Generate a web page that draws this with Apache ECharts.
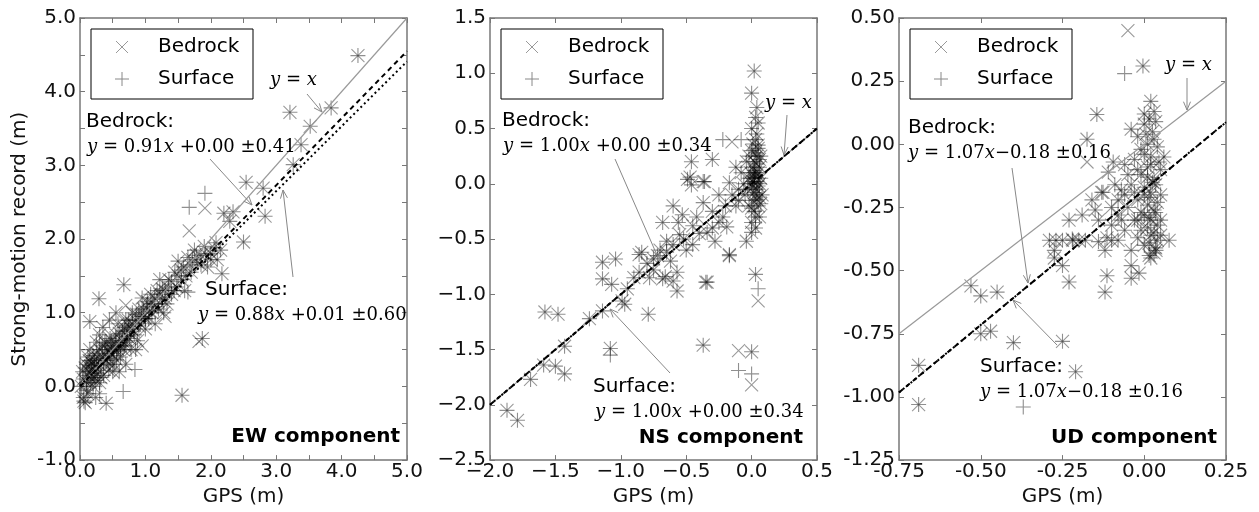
<!DOCTYPE html>
<html><head><meta charset="utf-8">
<script src="https://cdn.jsdelivr.net/npm/echarts@6/dist/echarts.min.js"></script>
<style>html,body{margin:0;padding:0;background:#fff}#c{width:1259px;height:512px}</style>
</head><body><div id="c"></div>
<script>
// ---------------- data (GPS [m], strong-motion record [m]) ----------------
const ewBoth = [[4.25,4.49],[3.84,3.78],[3.52,3.53],[3.21,3.72],[3.38,3.28],[3.26,3.01],[2.54,2.77],[2.8,2.69],[2.83,2.31],[2.2,2.35],[2.34,2.37],[2.29,2.24],[2.5,1.96],[2.17,1.53],[1.87,0.65],[1.56,-0.12],[0.67,1.38],[0.29,1.19],[0.15,0.88],[0.4,-0.23],
[0.05,0.1],[0.08,0.25],[0.1,-0.05],[0.12,0.15],[0.14,0.35],[0.16,0.05],[0.18,0.22],[0.2,0.42],[0.22,0.12],[0.24,-0.15],[0.25,0.3],[0.27,0.18],[0.3,0.5],[0.3,0.05],[0.32,0.28],[0.35,0.4],[0.36,0.15],[0.38,0.6],[0.4,0.35],[0.42,0.5],[0.44,0.22],[0.46,0.65],[0.48,0.45],[0.5,0.55],[0.52,0.3],[0.55,0.7],[0.56,0.48],[0.58,0.85],[0.6,0.6],[0.62,0.4],[0.65,0.75],[0.68,0.55],[0.7,0.9],[0.72,0.68],[0.75,0.82],[0.78,0.5],[0.8,1.0],[0.82,0.75],[0.85,0.9],[0.88,0.62],[0.9,1.05],[0.92,0.85],[0.95,1.2],[0.98,0.95],[1.0,0.78],[1.02,1.08],[1.05,0.92],[1.08,1.25],[1.1,1.0],[1.12,1.12],[1.15,0.85],[1.18,1.3],[1.2,1.05],[1.22,1.45],[1.25,1.18],[1.28,1.0],[1.3,1.3],[1.33,1.12],[1.36,1.45],[1.4,1.25],[1.45,1.55],[1.48,1.35],[1.5,1.7],[1.55,1.45],[1.58,1.62],[1.6,1.3],[1.65,1.75],[1.7,1.55],[1.75,1.85],[1.8,1.68],[1.85,1.78],[1.9,1.9],[1.95,1.62],[2.0,1.8],[2.05,1.88],[2.1,1.72],[2.15,1.85],
[0.02,0.0],[0.04,0.2],[0.06,-0.2],[0.1,0.3],[0.15,0.5],[0.2,0.0],[0.25,0.6],[0.12,-0.1],[0.3,0.7],[0.45,0.9],[0.5,0.2],[0.6,0.2],[0.7,0.3],[0.85,0.5],[0.55,1.0],[0.35,0.8],[0.08,-0.22],[0.05,-0.15],[0.18,0.32],[0.22,0.28],[0.28,0.38],
[0.1,0.05],[0.12,0.4],[0.14,0.2],[0.16,0.28],[0.18,0.1],[0.2,0.18],[0.22,0.36],[0.24,0.08],[0.26,0.45],[0.28,0.25],[0.32,0.12],[0.34,0.55],[0.36,0.32],[0.38,0.44],[0.4,0.58],[0.42,0.38],[0.44,0.48],[0.46,0.3],[0.48,0.62],[0.5,0.42],[0.52,0.52],[0.54,0.6],[0.56,0.36],[0.58,0.5],[0.6,0.72],[0.62,0.55],[0.64,0.62],[0.66,0.5],[0.68,0.8],[0.7,0.6],[0.72,0.75],[0.74,0.9],[0.76,0.65],[0.78,0.78],[0.8,0.85],[0.83,0.7],[0.86,0.98],[0.9,0.82],[0.94,0.95],[0.97,1.05],[1.0,0.92],[1.03,1.15],[1.06,1.02],[1.1,1.12],[1.14,1.2],[1.18,1.08],[1.22,1.25],[1.26,1.32],[1.3,1.2],[1.35,1.35],[1.4,1.42],[1.44,1.3],[1.5,1.5],[1.55,1.58],[1.62,1.5],[1.68,1.65],[1.72,1.72],[1.78,1.78],[1.85,1.65],[1.92,1.8],[2.0,1.72],[2.08,1.95]];
const ewBedrockOnly = [[1.91,2.42],[1.67,2.11],[1.82,0.61],[0.95,0.55],[1.3,0.95],[0.7,1.1]];
const ewSurfaceOnly = [[1.67,2.43],[1.91,2.62],[0.84,0.23],[0.66,-0.07],[1.65,1.28],[0.3,-0.1]];

const nsBoth = [[0.02,1.02],[0.0,0.82],[0.04,0.69],[0.03,0.6],[-0.46,0.2],[-0.3,0.22],[-0.49,0.04],[-0.36,0.02],[-0.47,0.06],[-0.46,-0.01],[-0.37,0.02],[-0.17,0.01],[-0.37,-0.17],[-0.53,-0.28],[-0.56,-0.35],[-0.68,-0.35],[-0.65,-0.52],[-0.55,-0.46],[-0.34,-0.44],[-0.28,-0.52],[-0.19,-0.39],[-0.04,-0.52],[0.0,-0.44],[-0.17,-0.65],[-0.84,-0.62],[-1.04,-0.68],[-0.72,-0.65],[-0.34,-0.89],[-0.57,-0.8],[-0.68,-0.86],[-1.14,-0.71],[-0.86,-0.64],[-0.86,-0.8],[-0.66,-0.84],[-0.6,-0.88],[-0.57,-0.97],[-0.35,-0.89],[-0.17,-0.64],[0.03,-0.82],[-1.58,-1.16],[-1.48,-1.18],[-1.24,-1.22],[-1.14,-1.15],[-0.97,-1.09],[-0.99,-1.06],[-0.79,-1.18],[-1.08,-1.49],[-1.43,-1.47],[-0.37,-1.46],[0.0,-1.52],[-1.59,-1.64],[-1.5,-1.65],[-1.43,-1.72],[-1.69,-1.77],[-1.87,-2.05],[-1.79,-2.14],[-1.14,-0.86],[-1.07,-0.91],[-0.95,-0.95],[-0.9,-0.85],[-0.8,-0.72],[-0.75,-0.78],[-0.62,-0.7],[-0.5,-0.6],[-0.45,-0.38],[-0.42,-0.3],[-0.3,-0.25],[-0.25,-0.1],[-0.22,-0.3],[-0.12,-0.2],[-0.1,-0.05],[-0.08,0.1],[-0.12,0.15],[-0.6,-0.2],
[0.0,0.0],[0.02,0.05],[0.04,-0.05],[0.05,0.1],[0.01,0.15],[0.03,-0.1],[0.06,0.0],[0.02,0.2],[0.04,0.25],[0.0,0.3],[0.05,0.35],[0.03,0.4],[0.07,0.05],[0.01,-0.15],[0.05,-0.2],[0.02,-0.25],[0.06,-0.3],[0.0,-0.35],[0.04,0.45],[0.06,0.15],[-0.02,0.05],[-0.03,-0.05],[0.08,-0.1],[0.03,0.1],[0.0,0.5],[0.05,0.55],[-0.04,0.2],[0.07,0.25],[-0.02,-0.2],[0.03,-0.4],[0.02,0.08],[0.04,0.02],[0.01,-0.03],[0.06,-0.12],
[0.01,0.02],[0.03,0.06],[0.05,-0.02],[0.02,0.12],[0.04,0.18],[-0.01,0.1],[0.06,0.22],[0.02,-0.08],[0.04,-0.14],[0.0,-0.22],[0.03,0.28],[0.05,0.32],[0.01,0.36],[-0.02,0.25],[0.07,-0.18],[0.03,-0.3],[-0.05,-0.1],[-0.06,0.0],[-0.1,-0.15],[-0.15,-0.1],[-0.2,-0.2],[-0.25,-0.35],[-0.3,-0.4],[-0.4,-0.45],[-0.45,-0.55],[-0.52,-0.5],[-0.6,-0.55],[-0.7,-0.6],[-0.75,-0.68],[-0.78,-0.85],[-0.65,-0.62]];
const nsBedrockOnly = [[0.05,-1.06],[-0.1,-1.51],[0.0,-1.82],[-0.15,0.38]];
const nsSurfaceOnly = [[0.05,-0.95],[-0.1,-1.69],[0.0,-1.72],[-0.22,0.4],[-0.08,0.4],[-1.08,-1.55]];

const udBoth = [[-0.004,0.31],[-0.145,0.118],[-0.175,0.02],[-0.095,-0.07],[-0.11,-0.11],[-0.13,-0.19],[-0.15,-0.26],[-0.14,-0.3],[-0.114,-0.37],[-0.1,-0.38],[-0.27,-0.38],[-0.22,-0.375],[-0.18,-0.38],[-0.14,-0.385],[-0.275,-0.42],[-0.275,-0.45],[-0.25,-0.48],[-0.23,-0.545],[-0.114,-0.52],[-0.12,-0.585],[-0.04,-0.48],[-0.04,-0.53],[-0.016,-0.51],[0.015,-0.44],[0.036,-0.42],[0.076,-0.38],[-0.53,-0.56],[-0.5,-0.6],[-0.45,-0.585],[-0.5,-0.75],[-0.47,-0.74],[-0.4,-0.785],[-0.25,-0.78],[-0.21,-0.9],[-0.69,-0.875],[-0.69,-1.03],[-0.29,-0.38],[-0.25,-0.38],[-0.218,-0.38],[-0.2,-0.38],[-0.126,-0.19],
[0.02,0.17],[0.03,0.13],[0.0,0.08],[0.025,0.05],[-0.02,0.03],[0.01,0.0],[0.04,-0.01],[0.0,-0.04],[-0.03,-0.06],[0.02,-0.08],[0.05,-0.1],[-0.01,-0.12],[0.03,-0.14],[-0.04,-0.16],[0.0,-0.17],[0.02,-0.19],[0.05,-0.2],[-0.02,-0.22],[0.01,-0.24],[0.03,-0.26],[-0.05,-0.25],[0.0,-0.28],[0.02,-0.3],[0.04,-0.32],[-0.01,-0.34],[0.02,-0.36],[0.04,-0.38],[0.0,-0.4],[0.03,-0.43],[-0.07,-0.18],[-0.06,-0.08],[-0.08,-0.22],[0.06,-0.05],[0.0,0.12],[-0.02,-0.3],[0.05,-0.3],[0.01,-0.09],[-0.04,0.06],[-0.08,-0.28],[-0.06,-0.34],
[0.015,0.1],[0.035,0.09],[0.005,0.04],[0.03,0.02],[-0.01,-0.02],[0.02,-0.05],[0.045,-0.07],[-0.02,-0.1],[0.01,-0.13],[0.035,-0.16],[-0.03,-0.19],[0.015,-0.21],[0.04,-0.23],[-0.01,-0.27],[0.015,-0.29],[0.035,-0.27],[-0.03,-0.3],[0.01,-0.33],[0.03,-0.35],[-0.02,-0.37],[0.015,-0.39],[0.035,-0.41],[0.02,-0.45],[-0.06,-0.2],[-0.09,-0.16],[-0.1,-0.25],[-0.07,-0.3],[-0.05,-0.12],[0.0,-0.2],[0.025,-0.15],[-0.04,-0.42],[0.05,-0.36],[-0.1,-0.32],[-0.16,-0.22],[-0.19,-0.28],[-0.23,-0.3],[-0.08,-0.38],[-0.12,-0.42]];
const udBedrockOnly = [[-0.05,0.45],[-0.175,-0.07]];
const udSurfaceOnly = [[-0.06,0.28],[-0.37,-1.04]];

// axis ranges / ticks
const xRanges = [[0,5],[-2,0.5],[-0.75,0.25]];
const yRanges = [[-1,5],[-2.5,1.5],[-1.25,0.5]];
const tickSteps = [0.5,0.5,0.25];
const labelSteps = [1,0.5,0.25];
const labelDecimals = [1,1,2];
const minusSigns = ['-','\u2212','-'];
// fits [slope, intercept, sigma]
const bedrockFits = [[0.91,0.00,0.41],[1.00,0.00,0.34],[1.07,-0.18,0.16]];
const surfaceFits = [[0.88,0.01,0.60],[1.00,0.00,0.34],[1.07,-0.18,0.16]];
const panelTitles = ['EW component','NS component','UD component'];
const legendNames = ['Bedrock','Surface'];
const xAxisName = 'GPS (m)';
const yAxisName = 'Strong-motion record (m)';

// ---------------- layout ----------------
const gridLefts = [80,490,899];
const gridTop = 18, gridW = 327, gridH = 444;
const FONT = 'DejaVu Sans';
const SERIF = 'DejaVu Serif';
const X_PATH = 'path://M0,0L10,10M10,0L0,10';
const PLUS_PATH = 'path://M5,0L5,10M0,5L10,5';
const bedrockPts = [ewBoth.concat(ewBedrockOnly), nsBoth.concat(nsBedrockOnly), udBoth.concat(udBedrockOnly)];
const surfacePts = [ewBoth.concat(ewSurfaceOnly), nsBoth.concat(nsSurfaceOnly), udBoth.concat(udSurfaceOnly)];

function fmt(i){
  return function(v){
    const r = v/labelSteps[i];
    if (Math.abs(r-Math.round(r))>1e-6) return '';
    let s = Math.abs(v).toFixed(labelDecimals[i]);
    if (v < -1e-9) s = minusSigns[i] + s;
    return s;
  };
}
const grids=[], xAxes=[], yAxes=[], series=[], graphics=[];
for (let i=0;i<3;i++){
  grids.push({left:gridLefts[i], top:gridTop, width:gridW, height:gridH, containLabel:false});
  const common = {splitLine:{show:false},interval:tickSteps[i],
    axisLine:{show:true,onZero:false,lineStyle:{color:'#777',width:1.5}},
    axisTick:{show:true,inside:true,length:5,lineStyle:{color:'#777',width:1}}};
  xAxes.push(Object.assign({}, common, {type:'value',gridIndex:i,position:'bottom',min:xRanges[i][0],max:xRanges[i][1],
    axisLabel:{show:true,formatter:fmt(i),color:'#111',fontFamily:FONT,fontSize:20,margin:2},
    name:xAxisName,nameLocation:'middle',nameGap:21,nameTextStyle:{color:'#111',fontFamily:FONT,fontSize:20}}));
  xAxes.push(Object.assign({}, common, {type:'value',gridIndex:i,position:'top',min:xRanges[i][0],max:xRanges[i][1],axisLabel:{show:false}}));
  yAxes.push(Object.assign({}, common, {type:'value',gridIndex:i,position:'left',min:yRanges[i][0],max:yRanges[i][1],
    axisLabel:{show:true,formatter:fmt(i),color:'#111',fontFamily:FONT,fontSize:20,margin:4},
    name:i===0?yAxisName:'',nameLocation:'middle',nameGap:50,nameTextStyle:{color:'#111',fontFamily:FONT,fontSize:20}}));
  yAxes.push(Object.assign({}, common, {type:'value',gridIndex:i,position:'right',min:yRanges[i][0],max:yRanges[i][1],axisLabel:{show:false}}));
  const xa = 2*i, ya = 2*i;
  series.push({type:'scatter',name:legendNames[0],xAxisIndex:xa,yAxisIndex:ya,data:bedrockPts[i],symbol:X_PATH,symbolSize:13,
    itemStyle:{color:'rgba(0,0,0,0.5)',borderColor:'rgba(0,0,0,0.5)',borderWidth:1.1},z:2,silent:true});
  series.push({type:'scatter',name:legendNames[1],xAxisIndex:xa,yAxisIndex:ya,data:surfacePts[i],symbol:PLUS_PATH,symbolSize:15,
    itemStyle:{color:'rgba(0,0,0,0.55)',borderColor:'rgba(0,0,0,0.55)',borderWidth:1.1},z:2,silent:true});
  const x0 = xRanges[i][0], x1 = xRanges[i][1];
  series.push({type:'line',xAxisIndex:xa,yAxisIndex:ya,data:[[x0,x0],[x1,x1]],symbol:'none',lineStyle:{color:'#999',width:1.2},z:3,silent:true});
  const bf = bedrockFits[i], sf = surfaceFits[i];
  series.push({type:'line',xAxisIndex:xa,yAxisIndex:ya,data:[[x0,bf[0]*x0+bf[1]],[x1,bf[0]*x1+bf[1]]],symbol:'none',lineStyle:{color:'#000',width:2,type:[5,4]},z:4,silent:true});
  series.push({type:'line',xAxisIndex:xa,yAxisIndex:ya,data:[[x0,sf[0]*x0+sf[1]],[x1,sf[0]*x1+sf[1]]],symbol:'none',lineStyle:{color:'#000',width:2,type:[2,3]},z:4,silent:true});
}

// ---------------- annotations (pixel positions) ----------------
function eqText(f){
  const sign = f[1] < 0 ? '\u2212' : ' +';
  return '{i|y} = '+f[0].toFixed(2)+'{i|x}'+sign+Math.abs(f[1]).toFixed(2)+' \u00b1'+f[2].toFixed(2);
}
function txt(x,y,text,opt){
  opt = opt||{};
  return {type:'text',x:x,y:y,z:50,style:Object.assign({text:text,fill:'#000',fontFamily:FONT,fontSize:20,verticalAlign:'middle',align:opt.align||'left'},opt.style||{})};
}
function eq(x,y,text){
  return {type:'text',x:x,y:y,z:50,style:{text:text,fill:'#000',fontFamily:SERIF,fontSize:18,verticalAlign:'middle',align:'left',
    rich:{i:{fontStyle:'italic',fontFamily:SERIF,fontSize:18,fill:'#000'}}}};
}
function arrow(x1,y1,x2,y2){
  const a = Math.atan2(y2-y1,x2-x1), L=9, w=0.4;
  return [{type:'line',z:45,shape:{x1:x1,y1:y1,x2:x2,y2:y2},style:{stroke:'#888',lineWidth:1}},
    {type:'polyline',z:45,shape:{points:[[x2-L*Math.cos(a-w),y2-L*Math.sin(a-w)],[x2,y2],[x2-L*Math.cos(a+w),y2-L*Math.sin(a+w)]]},style:{stroke:'#888',lineWidth:1,fill:null}}];
}
const ann = [
  {yx:[270,80], yxArrow:[307,94,322,112], bed:[86,122], bedEq:[87,147], bedArrow:[210,159,252,205], sur:[205,290], surEq:[198,315], surArrow:[293,277,283,190], title:[400,437]},
  {yx:[765,103], yxArrow:[787,115,784,155], bed:[502,121], bedEq:[503,146], bedArrow:[615,159,660,262], sur:[593,387], surEq:[595,412], surArrow:[670,373,610,309], title:[803,438]},
  {yx:[1165,65], yxArrow:[1187,78,1187,110], bed:[908,128], bedEq:[908,153], bedArrow:[1012,168,1028,283], sur:[980,367], surEq:[980,392], surArrow:[1057,345,1013,300], title:[1217,438]}
];
for (let i=0;i<3;i++){
  const a = ann[i];
  graphics.push(eq(a.yx[0],a.yx[1],'{i|y} = {i|x}'));
  graphics.push(...arrow(...a.yxArrow));
  graphics.push(txt(a.bed[0],a.bed[1],legendNames[0]+':'));
  graphics.push(eq(a.bedEq[0],a.bedEq[1],eqText(bedrockFits[i])));
  graphics.push(...arrow(...a.bedArrow));
  graphics.push(txt(a.sur[0],a.sur[1],legendNames[1]+':'));
  graphics.push(eq(a.surEq[0],a.surEq[1],eqText(surfaceFits[i])));
  graphics.push(...arrow(...a.surArrow));
  graphics.push(txt(a.title[0],a.title[1],panelTitles[i],{align:'right',style:{fontWeight:'bold'}}));
  // legend box
  const lx = gridLefts[i]+11, ly = 29;
  graphics.push({type:'rect',z:40,shape:{x:lx,y:ly,width:162,height:70},style:{fill:'#fff',stroke:'#000',lineWidth:1}});
  const mx = lx+31, r1 = ly+18, r2 = ly+50, s=6;
  graphics.push({type:'polyline',z:41,shape:{points:[[mx-s,r1-s],[mx+s,r1+s]]},style:{stroke:'#999',lineWidth:1}});
  graphics.push({type:'polyline',z:41,shape:{points:[[mx+s,r1-s],[mx-s,r1+s]]},style:{stroke:'#999',lineWidth:1}});
  graphics.push({type:'polyline',z:41,shape:{points:[[mx-7,r2],[mx+7,r2]]},style:{stroke:'#888',lineWidth:1}});
  graphics.push({type:'polyline',z:41,shape:{points:[[mx,r2-7],[mx,r2+7]]},style:{stroke:'#888',lineWidth:1}});
  graphics.push(txt(lx+67,r1,legendNames[0]));
  graphics.push(txt(lx+67,r2,legendNames[1]));
}

const chart = echarts.init(document.getElementById('c'), null, {renderer:'canvas'});
chart.setOption({
  animation:false, backgroundColor:'#fff',
  grid:grids, xAxis:xAxes, yAxis:yAxes, series:series, graphic:graphics
});
</script></body></html>
